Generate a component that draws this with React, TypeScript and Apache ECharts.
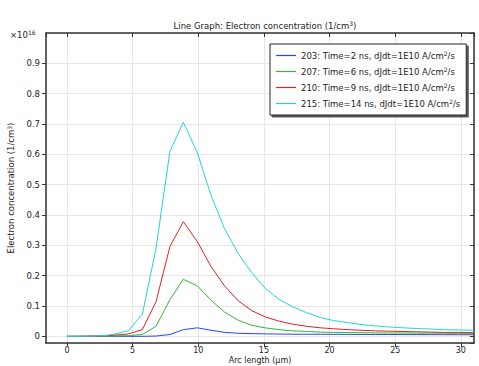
import React, { useEffect, useRef } from "react";
import * as echarts from "echarts";

const arcLength = [0, 1, 2, 3, 3.65, 4.67, 5.74, 6.78, 7.84, 8.86, 9.93, 10.97, 12.0, 13.05, 14.1, 15.1, 16.15, 17.2, 18.25, 19.3, 20.3, 21.4, 22.4, 23.5, 24.5, 25.6, 26.6, 27.7, 28.7, 29.8, 31];

const seriesNames = [
  "203: Time=2 ns, dJdt=1E10 A/cm{sup|2}/s",
  "207: Time=6 ns, dJdt=1E10 A/cm{sup|2}/s",
  "210: Time=9 ns, dJdt=1E10 A/cm{sup|2}/s",
  "215: Time=14 ns, dJdt=1E10 A/cm{sup|2}/s",
];

// values in units of 1e16 1/cm^3
const t2ns = [0, 0, 0, 0, 0, 0, 0, 0.001, 0.006, 0.022, 0.028, 0.02, 0.013, 0.01, 0.009, 0.008, 0.0075, 0.007, 0.007, 0.0068, 0.0066, 0.0064, 0.0062, 0.006, 0.006, 0.0058, 0.0057, 0.0056, 0.0055, 0.0054, 0.0053];
const t6ns = [0, 0, 0, 0.001, 0.001, 0.002, 0.006, 0.033, 0.121, 0.188, 0.166, 0.119, 0.08, 0.053, 0.036, 0.028, 0.022, 0.018, 0.016, 0.014, 0.013, 0.0125, 0.012, 0.0115, 0.011, 0.011, 0.0105, 0.0105, 0.0102, 0.01, 0.01];
const t9ns = [0, 0, 0.001, 0.002, 0.004, 0.008, 0.022, 0.114, 0.296, 0.378, 0.312, 0.23, 0.166, 0.117, 0.084, 0.064, 0.05, 0.04, 0.033, 0.028, 0.025, 0.022, 0.02, 0.018, 0.017, 0.016, 0.015, 0.014, 0.013, 0.013, 0.012];
const t14ns = [0, 0, 0.001, 0.003, 0.008, 0.018, 0.073, 0.29, 0.61, 0.706, 0.605, 0.465, 0.355, 0.272, 0.208, 0.158, 0.122, 0.097, 0.078, 0.062, 0.052, 0.045, 0.039, 0.034, 0.031, 0.028, 0.026, 0.024, 0.022, 0.021, 0.02];

const seriesValues = [t2ns, t6ns, t9ns, t14ns];
const colors = ["#2244ff", "#33b533", "#dd2222", "#22d5d5"];

const xTickLabels = ["0", "5", "10", "15", "20", "25", "30"];
const yTickLabels = ["0", "0.1", "0.2", "0.3", "0.4", "0.5", "0.6", "0.7", "0.8", "0.9"];

const FONT = "DejaVu Sans";

export default function App() {
  const ref = useRef<HTMLDivElement>(null);
  useEffect(() => {
    if (!ref.current) return;
    const chart = echarts.init(ref.current, null, { renderer: "svg" });
    const xMin = -1.6, xMax = 31.0, yMin = -0.022, yMax = 1.0;
    const frame = { show: true, lineStyle: { color: "#333", width: 1.5 } };
    const mkX = (pos: string, main: boolean) => ({
      type: "value",
      position: pos,
      min: xMin,
      max: xMax,
      splitNumber: 6,
      axisLine: { ...frame, onZero: false },
      axisTick: { show: true, inside: !main, length: 4, lineStyle: { color: "#333" } },
      axisLabel: {
        show: main,
        showMinLabel: false,
        showMaxLabel: false,
        fontFamily: FONT,
        fontSize: 8,
        lineHeight: 9,
        color: "#222",
        margin: 3,
        formatter: (v: number) => (xTickLabels.includes(String(v)) ? String(v) : ""),
      },
      splitLine: { show: main, lineStyle: { color: "#e6e6e6", width: 1 } },
      name: main ? "Arc length (µm)" : "",
      nameLocation: "middle",
      nameGap: 13,
      nameMoveOverlap: false,
      nameTextStyle: { fontFamily: FONT, fontSize: 8, lineHeight: 9, color: "#222" },
    });
    const mkY = (pos: string, main: boolean) => ({
      type: "value",
      position: pos,
      min: yMin,
      max: yMax,
      splitNumber: 10,
      axisLine: { ...frame, onZero: false },
      axisTick: { show: true, inside: !main, length: 4, lineStyle: { color: "#333" } },
      axisLabel: {
        show: main,
        showMinLabel: false,
        showMaxLabel: false,
        fontFamily: FONT,
        fontSize: 8.5,
        color: "#222",
        margin: 6,
        formatter: (v: number) => {
          const s = String(Math.round(v * 10) / 10);
          return yTickLabels.includes(s) && Math.abs(v * 10 - Math.round(v * 10)) < 1e-6 ? s : "";
        },
      },
      splitLine: { show: main, lineStyle: { color: "#e6e6e6", width: 1 } },
      name: main ? "Electron concentration (1/cm{sup|3})" : "",
      nameLocation: "middle",
      nameGap: 30,
      nameMoveOverlap: false,
      nameTextStyle: {
        fontFamily: FONT,
        fontSize: 8.5,
        color: "#222",
        rich: { sup: { fontFamily: FONT, fontSize: 6, padding: [0, 0, 4, 0], color: "#222" } },
      },
    });
    const rich = { sup: { fontFamily: FONT, fontSize: 6, padding: [0, 0, 5, 0], color: "#222" } };
    chart.setOption({
      animation: false,
      backgroundColor: "#fff",
      title: {
        text: "Line Graph: Electron concentration (1/cm{sup|3})",
        left: 260,
        textAlign: "center",
        top: 15,
        textStyle: { fontFamily: FONT, fontSize: 8.5, fontWeight: "normal", color: "#222", rich },
      },
      graphic: [
        {
          type: "text",
          left: 10,
          top: 29,
          style: {
            text: "×10{sup|16}",
            fontFamily: FONT,
            fontSize: 8.5,
            fill: "#222",
            rich: { sup: { fontFamily: FONT, fontSize: 6, padding: [0, 0, 5, 0], fill: "#222" } },
          },
        },
      ],
      grid: { left: 46, right: 5, top: 33, bottom: 23, containLabel: false, outerBoundsMode: "none" },
      xAxis: [mkX("bottom", true), mkX("top", false)],
      yAxis: [mkY("left", true), mkY("right", false)],
      legend: {
        left: 270,
        top: 44,
        orient: "vertical",
        backgroundColor: "#fff",
        borderColor: "#222",
        borderWidth: 1,
        padding: [6, 6, 6, 6],
        itemGap: 5,
        itemWidth: 20,
        itemHeight: 1.2,
        icon: "rect",
        shadowColor: "rgba(0,0,0,0.65)",
        shadowOffsetX: 2,
        shadowOffsetY: 2,
        shadowBlur: 1,
        textStyle: { fontFamily: FONT, fontSize: 8.5, lineHeight: 11, color: "#222", rich },
        data: seriesNames,
      },
      series: seriesValues.map((vals, i) => ({
        name: seriesNames[i],
        type: "line",
        xAxisIndex: 0,
        yAxisIndex: 0,
        symbol: "none",
        data: vals.map((v, j) => [arcLength[j], v]),
        lineStyle: { color: colors[i], width: 1 },
        itemStyle: { color: colors[i] },
        clip: true,
      })),
    });
    return () => chart.dispose();
  }, []);
  return <div ref={ref} style={{ width: 479, height: 366, position: "absolute", left: 0, top: 0 }} />;
}
